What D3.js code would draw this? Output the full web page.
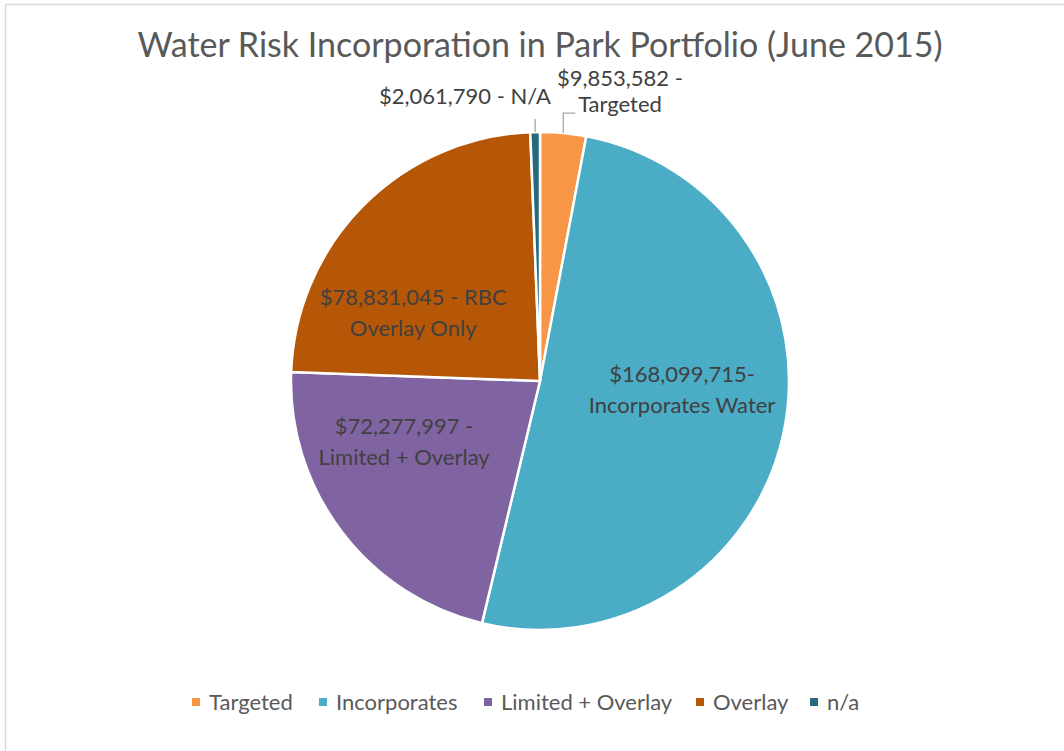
<!DOCTYPE html>
<html>
<head>
<meta charset="utf-8">
<script src="https://cdn.jsdelivr.net/npm/d3@7"></script>
<style>
  body { margin: 0; background: #fff; }
  text { font-family: Lato, "Open Sans", sans-serif; }
</style>
</head>
<body>
<svg id="mainsvg" width="1064" height="751"></svg>
<script>
// data
const categories = ['Targeted', 'Incorporates', 'Limited + Overlay', 'Overlay', 'n/a'];
const values = [9853582, 168099715, 72277997, 78831045, 2061790];
const labelLines = [
  ['$9,853,582 -', 'Targeted'],
  ['$168,099,715-', 'Incorporates Water'],
  ['$72,277,997 -', 'Limited + Overlay'],
  ['$78,831,045 - RBC', 'Overlay Only'],
  ['$2,061,790 - N/A']
];
const colors = ['#F79646', '#4BACC6', '#8064A2', '#B65708', '#276A7C'];

const svg = d3.select('#mainsvg');
const width = +svg.attr('width');
const height = +svg.attr('height');
const cx = 540, cy = 381, radius = 249;

// chart border
svg.append('rect')
  .attr('x', 5.5).attr('y', 4.5)
  .attr('width', width).attr('height', height)
  .attr('fill', 'none').attr('stroke', '#d9d9d9').attr('stroke-width', 1.5);

// title
svg.append('text')
  .attr('x', cx).attr('y', 57)
  .attr('text-anchor', 'middle')
  .style('font-size', '34px')
  .style('fill', '#595959')
  .text('Water Risk Incorporation in Park Portfolio (June 2015)');

const data = categories.map((c, i) => ({name: c, value: values[i], lines: labelLines[i], color: colors[i]}));

const pie = d3.pie().value(d => d.value).sort(null);
const arcs = pie(data);
const arc = d3.arc().innerRadius(0).outerRadius(radius);

const g = svg.append('g').attr('transform', `translate(${cx}, ${cy})`);

g.selectAll('path.slice')
  .data(arcs)
  .join('path')
  .attr('class', 'slice')
  .attr('d', arc)
  .attr('fill', d => d.data.color)
  .attr('stroke', '#fff')
  .attr('stroke-width', 2.5);

// inside labels: centroid at 0.6R, nudged like Excel's best fit
const labelArc = d3.arc().innerRadius(radius * 0.6).outerRadius(radius * 0.6);
const nudge = {'Incorporates': [-4, -21], 'Limited + Overlay': [-17, -28], 'Overlay': [-21, 39]};
const inside = arcs.filter(d => nudge[d.data.name]);
inside.forEach(d => {
  const [x, y] = labelArc.centroid(d);
  const [nx, ny] = nudge[d.data.name];
  const t = g.append('text')
    .attr('text-anchor', 'middle')
    .style('font-size', '22px')
    .style('fill', '#404040');
  d.data.lines.forEach((line, i) => {
    t.append('tspan')
      .attr('x', x + nx)
      .attr('y', y + ny + (i - (d.data.lines.length - 1) / 2) * 31 + 6)
      .text(line);
  });
});

// outside labels with leader lines
const edgeArc = d3.arc().innerRadius(radius).outerRadius(radius);
const outside = [
  {name: 'Targeted', line: [[0, -20], [12, -20]], text: [80, -295]},
  {name: 'n/a', line: [[0, -13]], text: [-75, -277]}
];
outside.forEach(o => {
  const d = arcs.find(a => a.data.name === o.name);
  const [x, y] = edgeArc.centroid(d);
  const pts = [[x, y]].concat(o.line.map(p => [x + p[0], y + p[1]]));
  g.append('path')
    .attr('d', d3.line()(pts))
    .attr('fill', 'none')
    .attr('stroke', '#a6a6a6')
    .attr('stroke-width', 1.3);
  const t = g.append('text')
    .attr('text-anchor', 'middle')
    .style('font-size', '22px')
    .style('fill', '#404040');
  d.data.lines.forEach((line, i) => {
    t.append('tspan')
      .attr('x', o.text[0])
      .attr('y', o.text[1] + i * 26)
      .text(line);
  });
});

// legend
const legendX = [192, 319, 484, 696, 810];
const legend = svg.append('g').attr('transform', 'translate(0, 702)');
data.forEach((d, i) => {
  legend.append('rect')
    .attr('x', legendX[i]).attr('y', -4)
    .attr('width', 8).attr('height', 8)
    .attr('fill', d.color);
  legend.append('text')
    .attr('x', legendX[i] + 17).attr('y', 8)
    .style('font-size', '22px')
    .style('fill', '#595959')
    .text(d.name);
});
</script>
</body>
</html>
